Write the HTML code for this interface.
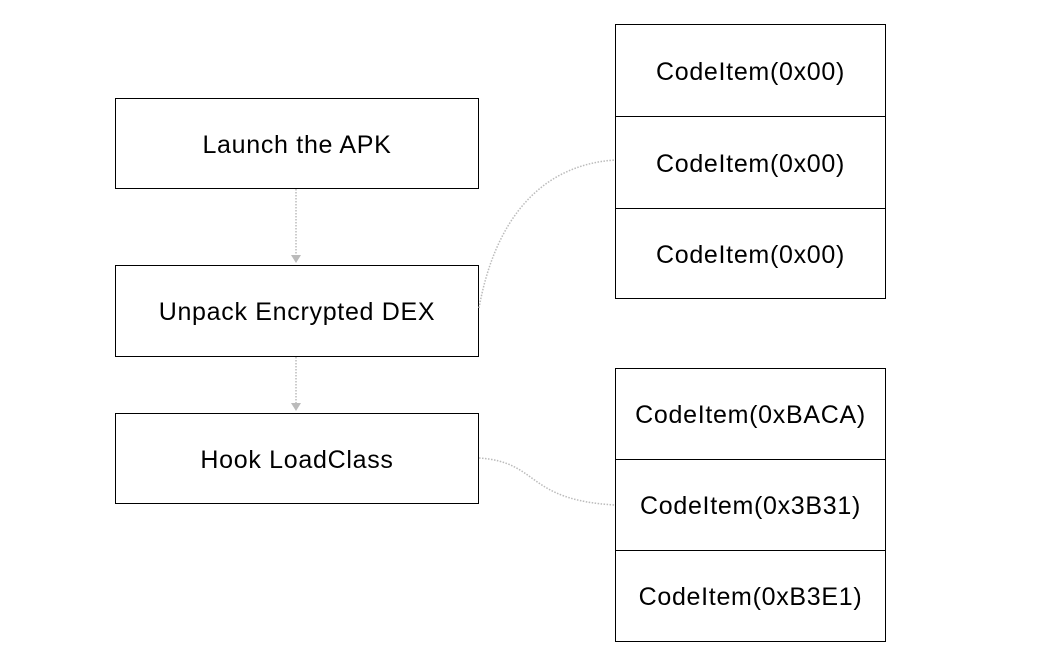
<!DOCTYPE html>
<html><head><style>
body{margin:0;width:1058px;height:664px;background:#fff;position:relative;font-family:"Liberation Sans",sans-serif;overflow:hidden}
.b{position:absolute;box-sizing:border-box;border:1px solid #000;display:flex;align-items:center;justify-content:center;font-size:25px;color:#000;padding-top:3px;letter-spacing:0.7px}
</style></head><body>
<div class="b" style="left:115px;top:98px;width:364px;height:91px">Launch the APK</div>
<div class="b" style="left:115px;top:265px;width:364px;height:92px">Unpack Encrypted DEX</div>
<div class="b" style="left:115px;top:413px;width:364px;height:91px">Hook LoadClass</div>
<div class="b" style="left:615px;top:24px;width:271px;height:93px">CodeItem(0x00)</div>
<div class="b" style="left:615px;top:116px;width:271px;height:93px">CodeItem(0x00)</div>
<div class="b" style="left:615px;top:208px;width:271px;height:91px">CodeItem(0x00)</div>
<div class="b" style="left:615px;top:368px;width:271px;height:92px">CodeItem(0xBACA)</div>
<div class="b" style="left:615px;top:459px;width:271px;height:92px">CodeItem(0x3B31)</div>
<div class="b" style="left:615px;top:550px;width:271px;height:92px">CodeItem(0xB3E1)</div>
<svg width="1058" height="664" style="position:absolute;left:0;top:0">
<g fill="none" stroke="#bbb" stroke-width="1.5" stroke-dasharray="1.5,1.5">
<path d="M296 189 V256"/>
<path d="M296 357 V403"/>
<path d="M479 308 C495 220 540 165 615 160"/>
<path d="M479 458 C540 462 525 500 615 505"/>
</g>
<g fill="#bbb"><path d="M291 255 L301 255 L296 263Z"/><path d="M291 403 L301 403 L296 411Z"/></g>
</svg>
</body></html>
